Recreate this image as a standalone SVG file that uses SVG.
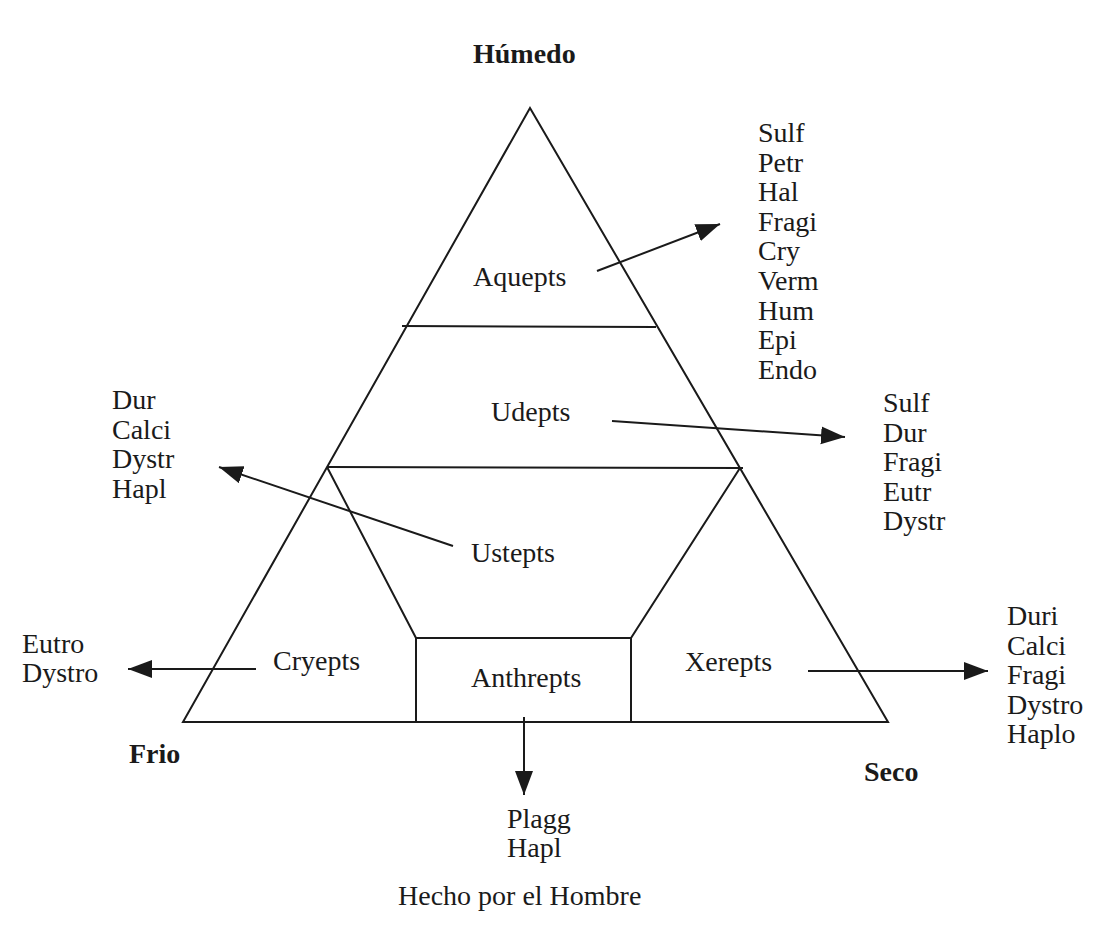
<svg xmlns="http://www.w3.org/2000/svg" width="1100" height="933" viewBox="0 0 1100 933">
<style>
.ln{fill:none;stroke:#1a1a1a;stroke-width:2;stroke-linejoin:miter}
.t{font-family:"Liberation Serif","Times New Roman",serif;font-size:28px;fill:#1a1a1a}
.b{font-family:"Liberation Serif","Times New Roman",serif;font-size:28px;font-weight:bold;fill:#1a1a1a}
.ar{fill:none;stroke:#1a1a1a;stroke-width:2;marker-end:url(#ah)}
</style>
<defs>
<marker id="ah" markerWidth="26" markerHeight="20" refX="24" refY="9" orient="auto" markerUnits="userSpaceOnUse">
<path d="M0,0 L24,9 L0,18 Z" fill="#1a1a1a"/>
</marker>
</defs>
<rect width="1100" height="933" fill="#ffffff"/>
<g id="triangle">
<polygon class="ln" points="530,108 183,722 888,722"/>
<line class="ln" x1="402" y1="326" x2="656" y2="327"/>
<line class="ln" x1="327" y1="467" x2="743" y2="468"/>
</g>
<g id="ustepts-trapezoid">
<polyline class="ln" points="327,467 416,638 631,638 740,468"/>
<line class="ln" x1="416" y1="638" x2="416" y2="722"/>
<line class="ln" x1="631" y1="638" x2="631" y2="722"/>
</g>
<g id="humedo"><text class="b" x="473" y="63">Húmedo</text></g>
<g id="frio"><text class="b" x="129" y="763">Frio</text></g>
<g id="seco"><text class="b" x="864" y="781">Seco</text></g>
<g id="aquepts"><text class="t" x="473" y="286">Aquepts</text></g>
<g id="udepts"><text class="t" x="491" y="421">Udepts</text></g>
<g id="ustepts"><text class="t" x="471" y="562">Ustepts</text></g>
<g id="cryepts"><text class="t" x="273" y="670">Cryepts</text></g>
<g id="anthrepts"><text class="t" x="471" y="687">Anthrepts</text></g>
<g id="xerepts"><text class="t" x="685" y="671">Xerepts</text></g>
<g id="aquepts-list"><text class="t">
<tspan x="758" y="142">Sulf</tspan><tspan x="758" y="171.6">Petr</tspan><tspan x="758" y="201.2">Hal</tspan><tspan x="758" y="230.8">Fragi</tspan><tspan x="758" y="260.4">Cry</tspan><tspan x="758" y="290">Verm</tspan><tspan x="758" y="319.6">Hum</tspan><tspan x="758" y="349.2">Epi</tspan><tspan x="758" y="378.8">Endo</tspan></text></g>
<g id="udepts-list"><text class="t">
<tspan x="883" y="412">Sulf</tspan><tspan x="883" y="441.5">Dur</tspan><tspan x="883" y="471">Fragi</tspan><tspan x="883" y="500.5">Eutr</tspan><tspan x="883" y="530">Dystr</tspan></text></g>
<g id="ustepts-list"><text class="t">
<tspan x="112" y="409">Dur</tspan><tspan x="112" y="438.5">Calci</tspan><tspan x="112" y="468">Dystr</tspan><tspan x="112" y="497.5">Hapl</tspan></text></g>
<g id="cryepts-list"><text class="t">
<tspan x="22" y="653">Eutro</tspan><tspan x="22" y="682">Dystro</tspan></text></g>
<g id="xerepts-list"><text class="t">
<tspan x="1007" y="625">Duri</tspan><tspan x="1007" y="654.5">Calci</tspan><tspan x="1007" y="684">Fragi</tspan><tspan x="1007" y="713.5">Dystro</tspan><tspan x="1007" y="743">Haplo</tspan></text></g>
<g id="anthrepts-list"><text class="t">
<tspan x="507" y="828">Plagg</tspan><tspan x="507" y="857">Hapl</tspan></text></g>
<g id="hecho"><text class="t" x="398" y="905">Hecho por el Hombre</text></g>
<g id="connectors">
<line class="ar" x1="597" y1="271" x2="720" y2="224"/>
<line class="ar" x1="612" y1="421" x2="845" y2="437"/>
<line class="ar" x1="453" y1="546" x2="219" y2="467"/>
<line class="ar" x1="256" y1="669" x2="128" y2="669"/>
<line class="ar" x1="808" y1="671" x2="988" y2="671"/>
<line class="ar" x1="524" y1="717" x2="524" y2="795"/>
</g>
</svg>
